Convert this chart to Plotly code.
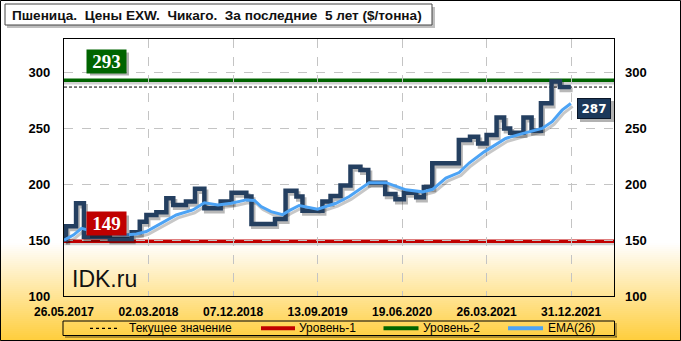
import plotly.graph_objects as go
import pandas as pd

# ---------------- data ----------------
price_dates = ["2017-05-26", "2017-06-02", "2017-07-05", "2017-07-31", "2017-10-25",
               "2018-01-05", "2018-02-01", "2018-02-23", "2018-03-28", "2018-04-30",
               "2018-05-23", "2018-07-04", "2018-08-03", "2018-09-03", "2018-10-27",
               "2018-12-02", "2019-01-20", "2019-02-06", "2019-04-25", "2019-05-30",
               "2019-07-05", "2019-07-25", "2019-09-29", "2019-10-26", "2019-11-28",
               "2019-12-31", "2020-02-02", "2020-02-28", "2020-04-24", "2020-05-28",
               "2020-06-25", "2020-08-05", "2020-08-30", "2020-09-27", "2020-12-24",
               "2021-01-30", "2021-02-26", "2021-03-26", "2021-04-28", "2021-05-23",
               "2021-06-12", "2021-07-26", "2021-08-22", "2021-09-22", "2021-10-27",
               "2021-11-24", "2021-12-30"]
price_values = [150.5, 162.5, 183, 153, 151,
                157, 166.5, 172.5, 175, 187.5,
                181.5, 184.5, 196, 178.5, 184.5,
                192.5, 189, 164.5, 169, 194.3,
                189, 176.4, 184.5, 189.5, 198.8,
                215.7, 212.8, 201.4, 191.3, 186.6,
                192.5, 188.4, 197.5, 218.7, 239.5,
                242.5, 236.5, 244, 259.8, 250,
                246, 259.8, 248, 272.5, 292,
                287, 287]

ema_dates = ["2017-05-26", "2017-06-26", "2017-07-23", "2017-09-05", "2017-12-13",
             "2018-01-21", "2018-02-23", "2018-03-28", "2018-06-02", "2018-07-27",
             "2018-09-03", "2018-10-18", "2018-12-01", "2019-01-20", "2019-02-16",
             "2019-03-10", "2019-04-12", "2019-05-20", "2019-06-11", "2019-07-14",
             "2019-09-13", "2019-11-13", "2019-12-27", "2020-03-02", "2020-04-27",
             "2020-07-02", "2020-08-26", "2020-09-28", "2020-11-11", "2020-12-25",
             "2021-01-27", "2021-03-18", "2021-05-28", "2021-07-22", "2021-09-26",
             "2021-10-29", "2021-12-01", "2021-12-30"]
ema_values = [150, 154.5, 160.5, 157.5, 154.7,
              155.5, 157.7, 162.5, 172.5, 177,
              183.5, 181.5, 183, 186, 185.5,
              180, 175.5, 172.8, 176.4, 181,
              177.7, 183, 189, 201.4, 201.4,
              195, 193.2, 195.5, 205.5, 210.5,
              219, 229, 241, 245.3, 250,
              256, 266.3, 272.3]

current_value = 287
level1 = 149
level2 = 293

x_tick_dates = ["2017-05-26", "2018-03-02", "2018-12-07", "2019-09-13",
                "2020-06-19", "2021-03-26", "2021-12-31"]
x_tick_labels = ["26.05.2017", "02.03.2018", "07.12.2018", "13.09.2019",
                 "19.06.2020", "26.03.2021", "31.12.2021"]
y_ticks = [100, 150, 200, 250, 300]
x_range = ["2017-05-26", "2022-05-22"]
y_range = [100, 330]

title_text = "Пшеница.\u00a0 Цены EXW.\u00a0 Чикаго.\u00a0 За последние\u00a0 5 лет ($/тонна)"
legend_labels = ["Текущее значение", "Уровень-1", "Уровень-2", "EMA(26)"]
watermark = "IDK.ru"

# ---------------- styling helpers ----------------
FW, FH = 681, 341
L, R, T, B = 64, 614, 39, 296
PW, PH = R - L, B - T


def px(x):
    return (x - L) / PW


def py(y):
    return (B - y) / PH


C_PRICE = "#243f60"
C_EMA = "#4ca3f5"
C_RED = "#c00000"
C_GREEN = "#006400"

fig = go.Figure()

# shadows
sh_dx = pd.Timedelta(days=6)
sh_dy = 2.6
pd_dates = pd.to_datetime(price_dates)
e_dates = pd.to_datetime(ema_dates)
fig.add_trace(go.Scatter(x=pd_dates + sh_dx, y=[v - sh_dy for v in price_values],
                         mode="lines", line=dict(color="rgba(0,0,0,0.28)", width=4.5, shape="hv"),
                         hoverinfo="skip", showlegend=False))
fig.add_trace(go.Scatter(x=e_dates + sh_dx, y=[v - sh_dy for v in ema_values],
                         mode="lines", line=dict(color="rgba(0,0,0,0.22)", width=3),
                         hoverinfo="skip", showlegend=False))

fig.add_trace(go.Scatter(x=pd_dates, y=price_values, mode="lines",
                         line=dict(color=C_PRICE, width=4.5, shape="hv"),
                         name="Цена", showlegend=False))
fig.add_trace(go.Scatter(x=e_dates, y=ema_values, mode="lines",
                         line=dict(color=C_EMA, width=3), name=legend_labels[3],
                         showlegend=False))
# invisible trace for right axis
fig.add_trace(go.Scatter(x=[x_range[0]], y=[y_range[0]], yaxis="y2", mode="lines",
                         line=dict(width=0), hoverinfo="skip", showlegend=False))

shapes = []
# gradient background at the bottom
g_top, g_bot = 243, FH
n = 49
for i in range(n):
    y0 = g_top + (g_bot - g_top) * i / n
    y1 = g_top + (g_bot - g_top) * (i + 1) / n + 0.6
    f = (i + 0.5) / n
    r = 255
    g = int(255 - (255 - 206) * f)
    b = int(255 - (255 - 60) * f)
    shapes.append(dict(type="rect", xref="paper", yref="paper",
                       x0=px(0), x1=px(FW), y0=py(y1), y1=py(y0),
                       line=dict(width=0), fillcolor=f"rgb({r},{g},{b})", layer="below"))

# level lines with shadows
for val, col, w in [(level1, C_RED, 3.5), (level2, C_GREEN, 3.5)]:
    shapes.append(dict(type="line", xref="paper", yref="y", x0=0, x1=1,
                       y0=val - 2.3, y1=val - 2.3,
                       line=dict(color="rgba(0,0,0,0.18)", width=3), layer="between"))
    shapes.append(dict(type="line", xref="paper", yref="y", x0=0, x1=1, y0=val, y1=val,
                       line=dict(color=col, width=w), layer="between"))
shapes.append(dict(type="line", xref="paper", yref="y", x0=0, x1=1,
                   y0=current_value, y1=current_value,
                   line=dict(color="black", width=1, dash="3px,2px"), layer="between"))

# outer frame
shapes.append(dict(type="rect", xref="paper", yref="paper", x0=px(0.5), x1=px(FW - 0.5),
                   y0=py(FH - 0.5), y1=py(0.5), line=dict(color="black", width=1),
                   fillcolor="rgba(0,0,0,0)", layer="above"))

# title box
shapes.append(dict(type="rect", xref="paper", yref="paper", x0=px(7), x1=px(435),
                   y0=py(28), y1=py(7), line=dict(width=0),
                   fillcolor="rgba(0,0,0,0.25)", layer="above"))
shapes.append(dict(type="rect", xref="paper", yref="paper", x0=px(5), x1=px(432),
                   y0=py(25), y1=py(4), line=dict(color="#444", width=1),
                   fillcolor="white", layer="above"))

# legend box
shapes.append(dict(type="line", xref="paper", yref="paper", x0=px(65), x1=px(617),
                   y0=py(337), y1=py(337), line=dict(color="rgba(0,0,0,0.3)", width=2), layer="above"))
shapes.append(dict(type="line", xref="paper", yref="paper", x0=px(616), x1=px(616),
                   y0=py(337), y1=py(323), line=dict(color="rgba(0,0,0,0.3)", width=2), layer="above"))
shapes.append(dict(type="rect", xref="paper", yref="paper", x0=px(63), x1=px(614.5),
                   y0=py(335.5), y1=py(321), line=dict(color="black", width=1),
                   fillcolor="rgba(0,0,0,0)", layer="above"))
legend_syms = [(90, 120, "black", 1.3, "3px,3px"), (261, 295, C_RED, 4, "solid"),
               (383.5, 418.5, C_GREEN, 4, "solid"), (508, 543, C_EMA, 4, "solid")]
legend_text_x = [127, 297, 421, 546]
for (x0, x1, col, w, dash) in legend_syms:
    shapes.append(dict(type="line", xref="paper", yref="paper", x0=px(x0), x1=px(x1),
                       y0=py(328.3), y1=py(328.3), line=dict(color=col, width=w, dash=dash),
                       layer="above"))

# label box shadows
for (x0, x1, y0, y1) in [(87, 126, 49.5, 72.5), (87, 126, 212.5, 235), (577, 611, 98, 119)]:
    shapes.append(dict(type="rect", xref="paper", yref="paper", x0=px(x0 + 3), x1=px(x1 + 3),
                       y0=py(y1 + 3), y1=py(y0 + 3), line=dict(width=0),
                       fillcolor="rgba(0,0,0,0.3)", layer="above"))

annotations = []
annotations.append(dict(xref="paper", yref="paper", x=px(10), y=py(15.5), xanchor="left",
                        yanchor="middle", text=f"<b>{title_text}</b>", showarrow=False,
                        font=dict(family="Liberation Sans", size=13.6, color="#111")))
for tx, lab in zip(legend_text_x, legend_labels):
    annotations.append(dict(xref="paper", yref="paper", x=px(tx), y=py(328.3), xanchor="left",
                            yanchor="middle", text=lab, showarrow=False,
                            font=dict(family="Liberation Sans", size=12, color="black")))
annotations.append(dict(xref="paper", yref="paper", x=px(106.5), y=py(61), xanchor="center",
                        yanchor="middle", text=f"<b>{level2}</b>", showarrow=False,
                        font=dict(family="Liberation Serif", size=19, color="white"),
                        bgcolor=C_GREEN, width=37, height=21, borderpad=1))
annotations.append(dict(xref="paper", yref="paper", x=px(106.5), y=py(223.7), xanchor="center",
                        yanchor="middle", text=f"<b>{level1}</b>", showarrow=False,
                        font=dict(family="Liberation Serif", size=19, color="white"),
                        bgcolor=C_RED, width=37, height=21, borderpad=1))
annotations.append(dict(xref="paper", yref="paper", x=px(594), y=py(108.5), xanchor="center",
                        yanchor="middle", text=f"<b>{current_value}</b>", showarrow=False,
                        font=dict(family="DejaVu Sans", size=12, color="white"),
                        bgcolor="#1c385a", bordercolor="#0a1628", borderwidth=1,
                        width=31, height=18, borderpad=0.5))
annotations.append(dict(xref="paper", yref="paper", x=px(70), y=py(279), xanchor="left",
                        yanchor="middle", text=watermark, showarrow=False,
                        font=dict(family="Liberation Sans", size=23, color="#111")))

axis_font = dict(family="Liberation Sans", size=12, color="black", weight="bold")
yfont = dict(family="Liberation Sans", size=13, color="black", weight="bold")

fig.update_layout(
    width=FW, height=FH,
    margin=dict(l=L, r=FW - R, t=T, b=FH - B),
    paper_bgcolor="white", plot_bgcolor="rgba(0,0,0,0)",
    showlegend=False,
    shapes=shapes, annotations=annotations,
    xaxis=dict(type="date", range=x_range, tickvals=x_tick_dates, ticktext=x_tick_labels,
               showgrid=True, gridcolor="#c4c4c4", griddash="dash", gridwidth=1,
               showline=True, linecolor="black", linewidth=1.2, mirror=True,
               ticks="", tickfont=axis_font, ticklabelstandoff=4, zeroline=False),
    yaxis=dict(range=y_range, tickvals=y_ticks, showgrid=True, gridcolor="#c4c4c4",
               griddash="dash", gridwidth=1, showline=True, linecolor="black",
               linewidth=1.2, mirror=True, ticks="", tickfont=yfont,
               ticklabelstandoff=10, zeroline=False),
    yaxis2=dict(range=y_range, tickvals=y_ticks, overlaying="y", side="right",
                showgrid=False, ticks="", tickfont=yfont, ticklabelstandoff=10,
                zeroline=False, showline=False),
)

fig.write_html("out.html")
